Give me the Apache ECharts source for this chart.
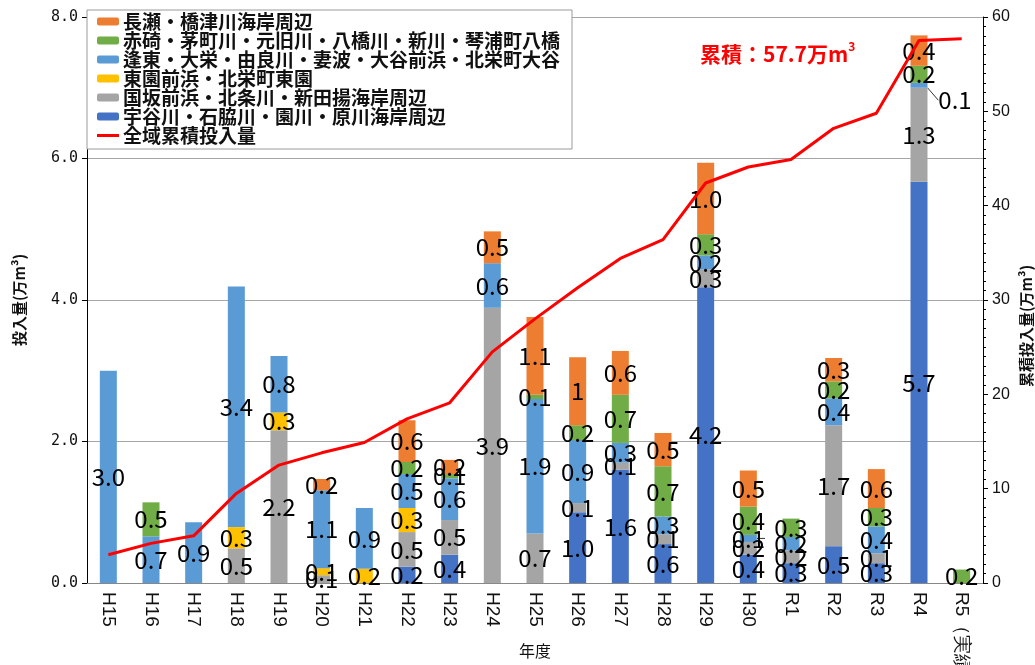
<!DOCTYPE html>
<html>
<head>
<meta charset="utf-8">
<script src="https://cdn.jsdelivr.net/npm/echarts@6/dist/echarts.min.js"></script>
<style>html,body{margin:0;padding:0;background:#fff}#c{width:1035px;height:665px}</style>
</head>
<body>
<div id="c"></div>
<script>
// ---- data ----
const categories = ['H15','H16','H17','H18','H19','H20','H21','H22','H23','H24','H25','H26','H27','H28','H29','H30','R1','R2','R3','R4','R5（実績）'];
const seriesNames = ['宇谷川・石脇川・園川・原川海岸周辺','国坂前浜・北条川・新田揚海岸周辺','東園前浜・北栄町東園','逢東・大栄・由良川・妻波・大谷前浜・北栄町大谷','赤碕・茅町川・元旧川・八橋川・新川・琴浦町八橋','長瀬・橋津川海岸周辺'];
const lineName = '全域累積投入量';
const ukadani = ['-','-','-','-','-','-','-',0.23,0.4,'-','-',1.0,1.6,0.55,4.18,0.4,0.28,0.52,0.28,5.67,'-'];
const kunisaka = ['-','-','-',0.49,2.16,0.11,'-',0.49,0.49,3.89,0.7,0.13,0.1,0.14,0.25,0.18,0.18,1.71,0.14,1.33,'-'];
const higashizono = ['-','-','-',0.3,0.25,0.1,0.2,0.34,'-','-','-','-','-','-','-','-','-','-','-','-','-'];
const oto = [3.0,0.66,0.86,3.4,0.8,1.1,0.86,0.48,0.59,0.63,1.9,0.89,0.28,0.25,0.2,0.1,0.19,0.38,0.38,0.07,'-'];
const akasaki = ['-',0.48,'-','-','-','-','-',0.17,0.06,'-',0.06,0.21,0.68,0.71,0.3,0.4,0.26,0.24,0.26,0.24,0.19];
const nagase = ['-','-','-','-','-',0.16,'-',0.59,0.2,0.45,1.1,{value: 0.96, label: {formatter: '1'}},0.62,0.47,1.01,0.51,'-',0.33,0.55,0.43,'-'];
const cumulative = [3.0,4.2,5.0,9.5,12.5,13.8,14.9,17.4,19.1,24.5,28.0,31.3,34.4,36.4,42.4,44.1,44.9,48.2,49.8,57.5,57.7];
const leftTicks = [0, 2, 4, 6, 8];
const rightTicks = [0, 10, 20, 30, 40, 50, 60];
const totalText = '57.7';

const colors = ['#4472C4','#A5A5A5','#FFC000','#5B9BD5','#70AD47','#ED7D31'];
const stacks = [ukadani, kunisaka, higashizono, oto, akasaki, nagase];

const chart = echarts.init(document.getElementById('c'));
const labelStyle = {
  show: true, position: 'inside', color: '#000',
  fontFamily: 'Noto Sans CJK JP', fontSize: 24, fontWeight: 'normal',
  formatter: p => (typeof p.value === 'number') ? p.value.toFixed(1) : ''
};
const barSeries = stacks.map((d, i) => {
  const s = {
    name: seriesNames[i], type: 'bar', stack: 'a', data: d,
    barWidth: 17, itemStyle: {color: colors[i]},
    label: labelStyle
  };
  if (i === 3) {
    s.labelLayout = function (p) {
      if (p.dataIndex === 19) return {dx: 36, dy: 15};
      return {};
    };
    s.labelLine = {show: true, lineStyle: {color: '#333', width: 1}};
  }
  return s;
});

chart.setOption({
  backgroundColor: '#fff',
  animation: false,
  grid: {left: 87, right: 52, top: 17, bottom: 82, containLabel: false, outerBoundsMode: 'none'},
  legend: {
    orient: 'vertical', left: 87, top: 10,
    data: [seriesNames[5], seriesNames[4], seriesNames[3], seriesNames[2], seriesNames[1], seriesNames[0],
      {name: lineName, icon: 'path://M0,0L22,0L22,3L0,3Z'}],
    itemWidth: 22, itemHeight: 8, itemGap: 0,
    padding: [2, 12, 4, 10],
    backgroundColor: '#fff', borderColor: '#9a9a9a', borderWidth: 1,
    textStyle: {fontFamily: 'Noto Sans CJK JP', fontSize: 19, fontWeight: 'bold', color: '#111', lineHeight: 18.5, padding: [0,0,0,-1]}
  },
  xAxis: {
    type: 'category', data: categories,
    name: '年度', nameLocation: 'middle', nameGap: 60, nameMoveOverlap: false,
    nameTextStyle: {fontFamily: 'Noto Sans CJK JP', fontSize: 16, color: '#111'},
    axisLine: {lineStyle: {color: '#888', width: 1}},
    axisTick: {show: false},
    axisLabel: {rotate: -90, margin: 9, fontFamily: 'Liberation Sans Narrow, Liberation Sans', fontSize: 19, color: '#111'}
  },
  yAxis: [{
    type: 'value', min: 0, max: 8, interval: 2,
    name: '投入量(万m³)', nameLocation: 'middle', nameGap: 60, nameRotate: 90, nameMoveOverlap: false,
    nameTextStyle: {fontFamily: 'Noto Sans CJK JP', fontSize: 15, fontWeight: 'bold', color: '#111'},
    axisLine: {show: true, lineStyle: {color: '#000', width: 1}},
    axisTick: {show: true, length: 5, lineStyle: {color: '#000'}},
    axisLabel: {margin: 9, fontFamily: 'DejaVu Sans Mono', fontSize: 15, color: '#111',
      formatter: v => leftTicks.includes(v) ? v.toFixed(1) : ''},
    splitLine: {show: true, lineStyle: {color: '#a6a6a6', width: 1}}
  }, {
    type: 'value', min: 0, max: 60, interval: 10, position: 'right',
    axisLine: {show: true, lineStyle: {color: '#000', width: 1}},
    axisTick: {show: true, length: 5, lineStyle: {color: '#000'}},
    minorTick: {show: true, splitNumber: 10, length: 3, lineStyle: {color: '#000'}},
    axisLabel: {margin: 9, fontFamily: 'Liberation Sans', fontSize: 16, color: '#111',
      formatter: v => rightTicks.includes(v) ? String(v) : ''},
    splitLine: {show: false}
  }],
  series: barSeries.concat([{
    name: lineName, type: 'line', yAxisIndex: 1, data: cumulative,
    symbol: 'none', showSymbol: false, smooth: false,
    lineStyle: {color: '#FF0000', width: 3}, itemStyle: {color: '#FF0000'}, z: 5
  }]),
  graphic: [{
    type: 'text', left: 700, top: 40,
    style: {
      text: '{a|累積：' + totalText + '万m}{s|3}',
      rich: {
        a: {fontFamily: 'Noto Sans CJK JP', fontSize: 21, fontWeight: 'bold', fill: '#FF0000', lineHeight: 28},
        s: {fontFamily: 'Noto Sans CJK JP', fontSize: 12, fontWeight: 'bold', fill: '#FF0000', verticalAlign: 'top', lineHeight: 28, padding: [0,0,12,0]}
      }
    }
  }, {
    type: 'text', x: 1026, y: 326, rotation: Math.PI / 2,
    style: {text: '累積投入量(万m³)', fontFamily: 'Noto Sans CJK JP', fontSize: 15, fontWeight: 'bold', fill: '#111', align: 'center', verticalAlign: 'middle'}
  }]
});
</script>
</body>
</html>
